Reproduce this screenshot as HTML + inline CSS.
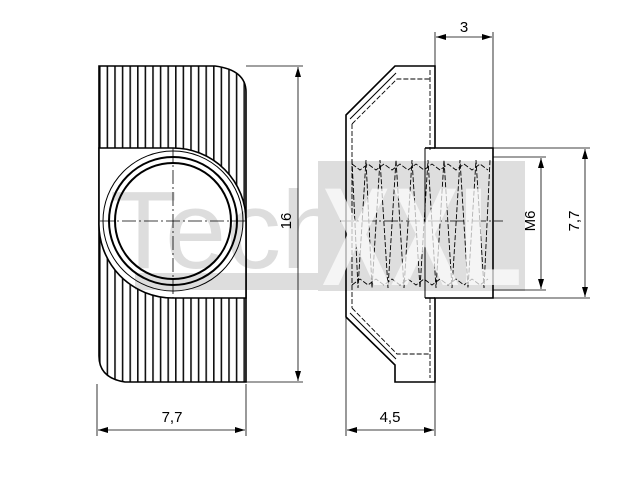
<!DOCTYPE html>
<html><head><style>body{margin:0;background:#fff}svg{display:block}</style></head><body>
<svg width="640" height="480" viewBox="0 0 640 480" xmlns="http://www.w3.org/2000/svg" font-family="Liberation Sans, sans-serif">
<defs>
<marker id="a" markerWidth="10" markerHeight="6" refX="10" refY="3" orient="auto-start-reverse" markerUnits="userSpaceOnUse"><path d="M0,0 L10,3 L0,6z" fill="#000"/></marker>
<pattern id="rib" width="7.6" height="10" patternUnits="userSpaceOnUse" x="99"><rect width="7.6" height="10" fill="#fff"/><rect x="0" width="1.6" height="10" fill="#111"/></pattern>
</defs>

<!-- LEFT VIEW -->
<g stroke="#000" stroke-width="1.6" fill="none">
<path d="M99,66 L215,66 Q246,70 246,92 L246,382 L125,382 Q99,378 99,356 Z" fill="url(#rib)"/>
<path d="M99,148 L173,148 A73,73 0 0 1 246,221 L246,298 L173,298 A74,74 0 0 1 99,221 Z" fill="#fff"/>
<circle cx="173" cy="221" r="64" stroke-width="2"/>
<circle cx="173" cy="221" r="58" stroke-width="2"/>
<circle cx="173" cy="221" r="70" stroke-width="1"/>
<line x1="99" y1="221" x2="99" y2="148" stroke-width="1"/>
</g>
<g stroke="#000" stroke-width="0.8" stroke-dasharray="14,3,2,3">
<line x1="100" y1="221" x2="246" y2="221"/><line x1="173" y1="148" x2="173" y2="298"/>
</g>
<!-- dims left -->
<g stroke="#000" stroke-width="0.8" fill="none">
<line x1="246" y1="66" x2="303" y2="66"/><line x1="246" y1="382" x2="303" y2="382"/>
<line x1="298" y1="67" x2="298" y2="381" marker-start="url(#a)" marker-end="url(#a)"/>
<line x1="97" y1="384" x2="97" y2="436"/><line x1="246" y1="384" x2="246" y2="436"/>
<line x1="98" y1="430" x2="245" y2="430" marker-start="url(#a)" marker-end="url(#a)"/>
</g>
<text x="172" y="422" font-size="15" text-anchor="middle">7,7</text>
<text transform="translate(291,221) rotate(-90)" font-size="15" text-anchor="middle">16</text>

<!-- RIGHT VIEW -->
<g stroke="#000" stroke-width="1.6" fill="none">
<path d="M395,66 L435,66 L435,148 L493,148 L493,298 L435,298 L435,382 L395,382 L395,365 L346,317 L346,115 Z"/>
<line x1="425" y1="148" x2="425" y2="298" stroke-width="1"/>
<line x1="425" y1="148" x2="435" y2="148"/><line x1="425" y1="298" x2="435" y2="298"/>
<path d="M350,119 L396,73" stroke-width="1"/><path d="M350,313 L396,359" stroke-width="1"/>
</g>
<g stroke="#000" stroke-width="0.9" fill="none" stroke-dasharray="5,2">
<path d="M352,124 L397,79 L430,79"/><path d="M352,308 L397,354 L430,354"/>
<line x1="430" y1="70" x2="430" y2="150"/><line x1="430" y1="298" x2="430" y2="378"/>
<line x1="352" y1="124" x2="352" y2="308"/>
<path d="M352,160 L358,288 L366,160 L372,288 L380,160 L388,288 L396,160 L404,288 L412,160 L420,288 L428,160 L436,288 L444,160 L452,288 L460,160 L468,288 L476,160 L484,288 L490,160"/>
<path d="M352,164 L360,170 L368,164 L376,170 L384,164 L392,170 L400,164 L408,170 L416,164 L424,170 L432,164 L440,170 L448,164 L456,170 L464,164 L472,170 L480,164 L488,170"/>
<path d="M352,285 L360,279 L368,285 L376,279 L384,285 L392,279 L400,285 L408,279 L416,285 L424,279 L432,285 L440,279 L448,285 L456,279 L464,285 L472,279 L480,285 L488,279"/>
</g>
<line x1="340" y1="221" x2="503" y2="221" stroke="#000" stroke-width="0.8" stroke-dasharray="14,3,2,3"/>
<!-- dims right -->
<g stroke="#000" stroke-width="0.8" fill="none">
<line x1="435" y1="32" x2="435" y2="66"/><line x1="493" y1="32" x2="493" y2="148"/>
<line x1="436" y1="37" x2="492" y2="37" marker-start="url(#a)" marker-end="url(#a)"/>
<line x1="493" y1="157" x2="546" y2="157"/><line x1="493" y1="290" x2="546" y2="290"/>
<line x1="541" y1="158" x2="541" y2="289" marker-start="url(#a)" marker-end="url(#a)"/>
<line x1="493" y1="148" x2="590" y2="148"/><line x1="493" y1="298" x2="590" y2="298"/>
<line x1="585" y1="149" x2="585" y2="297" marker-start="url(#a)" marker-end="url(#a)"/>
<line x1="346" y1="318" x2="346" y2="436"/><line x1="435" y1="382" x2="435" y2="436"/>
<line x1="347" y1="430" x2="434" y2="430" marker-start="url(#a)" marker-end="url(#a)"/>
</g>
<text x="464" y="32" font-size="15" text-anchor="middle">3</text>
<text transform="translate(535,221) rotate(-90)" font-size="15" text-anchor="middle">M6</text>
<text transform="translate(579,221) rotate(-90)" font-size="15" text-anchor="middle">7,7</text>
<text x="390" y="422" font-size="15" text-anchor="middle">4,5</text>

<!-- watermark overlay -->
<g opacity="0.13">
<rect x="318" y="161" width="207" height="130" fill="#000"/>
<rect x="135" y="273" width="183" height="17" fill="#000"/>
<text x="110" y="268" font-size="110" fill="#000">Tech</text>
</g>
<text x="322" y="285" font-size="140" fill="#fff" fill-opacity="0.7" font-weight="bold" textLength="200" lengthAdjust="spacingAndGlyphs">XXL</text>
</svg>
</body></html>
